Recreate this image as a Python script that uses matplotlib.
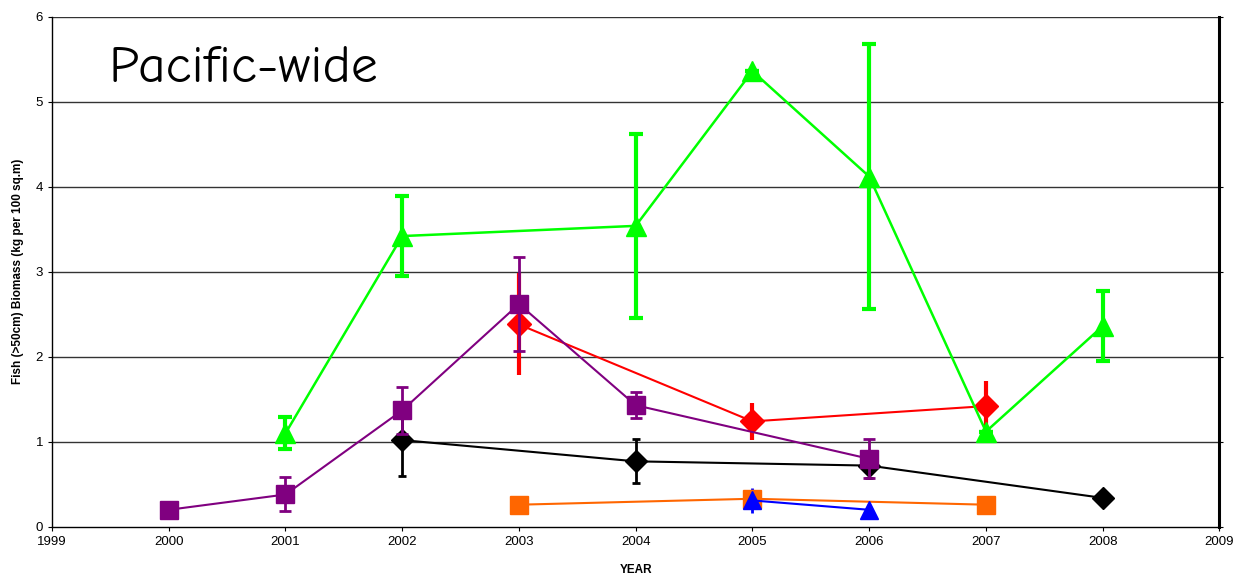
import matplotlib
matplotlib.use("Agg")
import matplotlib.pyplot as plt
import numpy as np

plt.rcParams["font.family"] = ["Liberation Sans", "DejaVu Sans"]

# green triangles
green_years = [2001, 2002, 2004, 2005, 2006, 2007, 2008]
green_vals = [1.10, 3.42, 3.54, 5.36, 4.12, 1.12, 2.36]
green_err = [0.19, 0.47, 1.08, 0.0, 1.56, 0.0, 0.41]

# purple squares
purple_years = [2000, 2001, 2002, 2003, 2004, 2006]
purple_vals = [0.20, 0.38, 1.37, 2.62, 1.43, 0.80]
purple_err = [0.0, 0.20, 0.28, 0.55, 0.15, 0.23]

# red diamonds
red_years = [2003, 2005, 2007]
red_vals = [2.38, 1.24, 1.42]
red_err = [0.60, 0.22, 0.29]

# black diamonds
black_years = [2002, 2004, 2006, 2008]
black_vals = [1.02, 0.77, 0.72, 0.34]
black_err = [0.42, 0.26, 0.15, 0.05]

# orange squares
orange_years = [2003, 2005, 2007]
orange_vals = [0.26, 0.33, 0.26]

# blue triangles
blue_years = [2005, 2006]
blue_vals = [0.31, 0.20]
blue_err = [0.15, 0.0]

fig = plt.figure(figsize=(12.38, 5.77), dpi=100, facecolor="white")
ax = fig.add_axes([0.042, 0.087, 0.943, 0.884])

ax.set_axisbelow(True)
for y in range(1, 7):
    ax.axhline(y, color="#333333", linewidth=1.0, zorder=0)

ax.errorbar(orange_years, orange_vals, color="#ff6600", marker="s", ms=13,
            lw=1.5, zorder=3)
ax.errorbar(blue_years, blue_vals, yerr=blue_err, color="#0000ff", marker="^",
            ms=13, lw=1.5, elinewidth=2, capsize=0, zorder=3)
ax.errorbar(black_years, black_vals, yerr=black_err, color="black", marker="D",
            ms=11, lw=1.5, elinewidth=2, capsize=3, capthick=2, zorder=4)
ax.errorbar(red_years, red_vals, yerr=red_err, color="#ff0000", marker="D",
            ms=12, lw=1.5, elinewidth=3, capsize=0, zorder=4)
ax.errorbar(purple_years, purple_vals, yerr=purple_err, color="#800080", marker="s",
            ms=13, lw=1.5, elinewidth=2, capsize=4, capthick=2, zorder=5)
ax.errorbar(green_years, green_vals, yerr=green_err, color="#00ff00", marker="^",
            ms=14, lw=1.8, elinewidth=3, capsize=5, capthick=3, zorder=6)

ax.set_xlim(1999, 2009)
ax.set_ylim(0, 6)
ax.set_xticks(np.arange(1999, 2010))
ax.set_yticks(np.arange(0, 7))
ax.tick_params(axis="both", direction="out", length=3, labelsize=9.5, colors="black")
ax.tick_params(axis="y", right=True)
ax.spines["top"].set_visible(False)
ax.spines["right"].set_linewidth(2.2)
ax.spines["left"].set_linewidth(1.0)
ax.spines["bottom"].set_linewidth(1.0)

ax.set_xlabel("YEAR", fontsize=8.5, fontweight="bold", labelpad=12)
ax.set_ylabel("Fish (>50cm) Biomass (kg per 100 sq.m)", fontsize=8.5,
              fontweight="bold", labelpad=8)

ax.text(1999.48, 5.38, "Pacific-wide", fontsize=38.5, family=["Comic Neue", "Open Sans", "DejaVu Sans"],
        ha="left", va="center", color="black")

fig.savefig("out.png", dpi=100, facecolor="white")
